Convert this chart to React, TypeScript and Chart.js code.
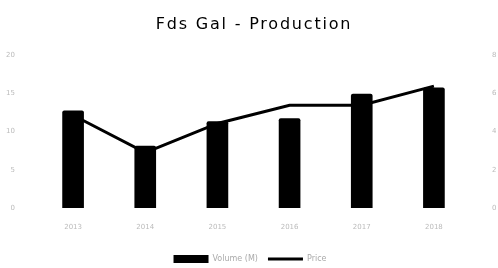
import React, { useEffect, useRef } from "react";
import { Chart, registerables } from "chart.js";

Chart.register(...registerables);

const years = ["2013", "2014", "2015", "2016", "2017", "2018"];
const volumeValues = [12.7, 8.1, 11.3, 11.7, 14.9, 15.7];
const priceValues = [48.5, 29, 44.2, 53.7, 53.7, 63.7];
const seriesNames = ["Volume (M)", "Price"];
const titleText = "Fds Gal - Production";

const titlePlugin = {
  id: "spacedTitle",
  afterDraw(chart: any) {
    const ctx = chart.ctx as CanvasRenderingContext2D;
    ctx.save();
    ctx.font = "16px 'DejaVu Sans'";
    (ctx as any).letterSpacing = "1.8px";
    ctx.fillStyle = "#000";
    ctx.textAlign = "center";
    ctx.textBaseline = "alphabetic";
    ctx.fillText(titleText, chart.width / 2 + 5, 29);
    ctx.restore();
  },
};

export default function App() {
  const ref = useRef<HTMLCanvasElement | null>(null);
  useEffect(() => {
    if (!ref.current) return;
    const tickFont = { family: "DejaVu Sans", size: 7 };
    const chart = new Chart(ref.current, {
      type: "bar",
      data: {
        labels: years,
        datasets: [
          {
            type: "bar",
            label: seriesNames[0],
            data: volumeValues,
            backgroundColor: "#000",
            borderColor: "#000",
            borderWidth: 0,
            borderRadius: 2,
            barThickness: 21,
            yAxisID: "y",
            order: 2,
            pointStyle: "rect",
          } as any,
          {
            type: "line",
            label: seriesNames[1],
            data: priceValues,
            borderColor: "#000",
            backgroundColor: "#000",
            borderWidth: 3,
            pointRadius: 0,
            tension: 0,
            yAxisID: "y1",
            order: 1,
            pointStyle: "line",
          } as any,
        ],
      },
      options: {
        responsive: false,
        animation: false,
        layout: { padding: { left: 4, right: 2, top: 55, bottom: -5 } },
        plugins: {
          title: { display: false },
          legend: {
            position: "bottom",
            labels: {
              usePointStyle: true,
              pointStyleWidth: 35,
              boxHeight: 8,
              color: "#aaa",
              font: { family: "DejaVu Sans", size: 8 },
              padding: 10,
              sort: (a: any, b: any) => a.datasetIndex - b.datasetIndex,
            },
          },
          tooltip: { enabled: false },
        },
        scales: {
          x: {
            grid: { display: false },
            border: { display: false },
            ticks: { color: "#bbb", font: tickFont, padding: 7 },
            afterFit: (s: any) => { s.height = 37; },
          },
          y: {
            position: "left",
            min: 0,
            max: 20,
            grid: { display: false },
            border: { display: false },
            ticks: { stepSize: 5, color: "#bbb", font: tickFont, padding: 14 },
            afterFit: (s: any) => { s.width = 33; },
          },
          y1: {
            position: "right",
            min: 0,
            max: 80,
            grid: { display: false },
            border: { display: false },
            ticks: { stepSize: 20, color: "#bbb", font: tickFont, padding: 14 },
            afterFit: (s: any) => { s.width = 26; },
          },
        },
      },
      plugins: [titlePlugin],
    });
    return () => chart.destroy();
  }, []);
  return (
    <div style={{ position: "absolute", left: 0, top: 0, width: 498, height: 268, background: "#fff" }}>
      <canvas ref={ref} width={498} height={268} />
    </div>
  );
}
